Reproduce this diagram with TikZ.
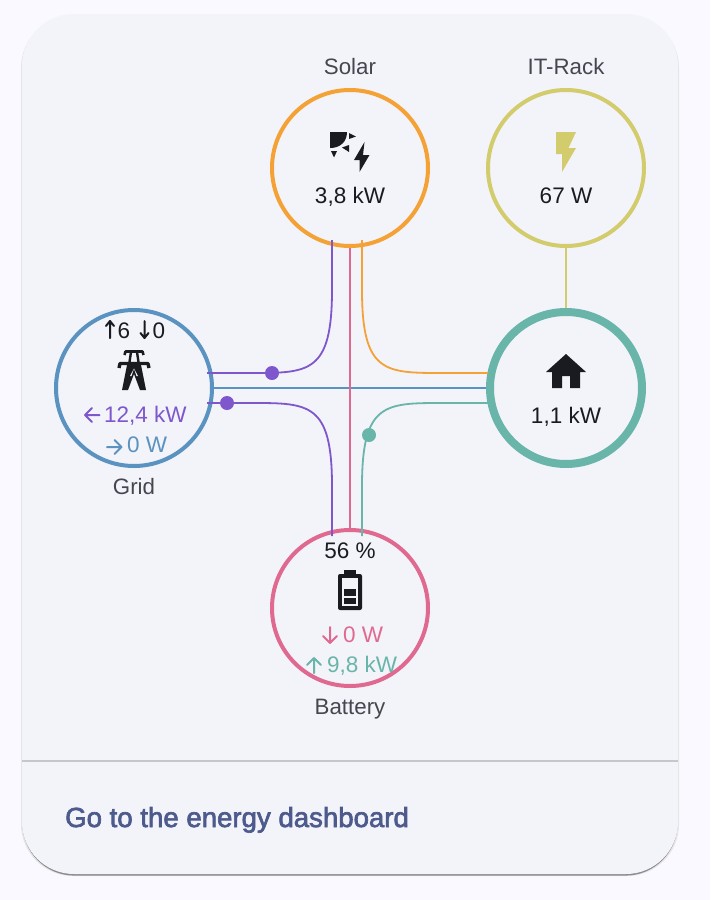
\documentclass[tikz,border=0pt]{standalone}
\usepackage{fontspec}
\setmainfont{Liberation Sans}
\newfontfamily\medfont[FakeBold=2.4]{Liberation Sans}
\definecolor{pagebg}{HTML}{F9F9FF}
\definecolor{cardbg}{HTML}{F3F3FA}
\definecolor{rulec}{HTML}{C6C6CF}
\definecolor{labelc}{HTML}{45464F}
\definecolor{inkc}{HTML}{1A1B21}
\definecolor{linkc}{HTML}{4D5A8C}
\definecolor{gridc}{HTML}{5A92C0}
\definecolor{solarc}{HTML}{F4A236}
\definecolor{rackc}{HTML}{D2CC6C}
\definecolor{homec}{HTML}{69B5A9}
\definecolor{battc}{HTML}{E0698F}
\definecolor{purpc}{HTML}{7E57CC}
\tikzset{
  x=1pt,y=-1pt,
  ring/.style={circle,draw,line width=4pt,minimum size=156pt,inner sep=0pt,fill=cardbg},
  flow/.style={line width=1.8pt},
  dotm/.style={circle,inner sep=0pt,minimum size=14pt},
  val/.style={inner sep=0pt,font=\fontsize{22.5}{23}\selectfont,text=inkc,anchor=base},
  lab/.style={inner sep=0pt,font=\fontsize{22.3}{23}\selectfont,text=labelc,anchor=base},
  arw/.style={line width=2pt,line cap=round,line join=round},
}
\begin{document}
\begin{tikzpicture}
\useasboundingbox (0,0) rectangle (710,900);
\fill[pagebg] (0,0) rectangle (710,900);
% card
\fill[black!10,rounded corners=52pt] (21,16) rectangle (679,876);
\fill[black!45,rounded corners=52pt] (22.5,20) rectangle (677.5,875.6);
\fill[cardbg,rounded corners=52pt] (22,14) rectangle (678,874);
\draw[rulec,line width=1.8pt] (22,761) -- (678,761);
\node[inner sep=0pt,anchor=base west,font=\medfont\fontsize{27.6}{28}\selectfont,text=linkc] (link) at (65,827) {Go to the energy dashboard};
% circles
\node[ring,draw=solarc] (solar) at (350,168) {};
\node[ring,draw=rackc] (rack) at (566,168) {};
\node[ring,draw=gridc] (grid) at (134,388) {};
\node[ring,draw=battc] (batt) at (350,608) {};
\node[ring,draw=homec,line width=8pt,minimum size=152pt] (home) at (566,388) {};
% connector anchors
\coordinate (s1) at (332,240); \coordinate (s2) at (362,240);
\coordinate (b1) at (332,536); \coordinate (b2) at (362,536);
\coordinate (g1) at (207,373); \coordinate (g2) at (207,403);
\coordinate (h1) at (488,373); \coordinate (h2) at (488,403);
% connectors
\draw[flow,rackc] (rack.south) -- (home.north);
\draw[flow,gridc] (grid.east) -- (home.west);
\draw[flow,battc] (solar.south) -- (batt.north);
\draw[flow,solarc] (s2) -- (362,290) .. controls (362,373) and (385,373) .. (442,373) -- (h1);
\draw[flow,homec] (b2) -- (362,486) .. controls (362,403) and (385,403) .. (442,403) -- (h2);
\draw[flow,purpc] (s1) -- (332,290) .. controls (332,373) and (309,373) .. (252,373) -- (g1);
\draw[flow,purpc] (b1) -- (332,486) .. controls (332,403) and (309,403) .. (252,403) -- (g2);
\node[dotm,fill=purpc] (d1) at (272,373) {};
\node[dotm,fill=purpc] (d2) at (227,403) {};
\node[dotm,fill=homec] (d3) at (369,435) {};
% labels
\node[lab] (lsolar) at (350,74.5) {Solar};
\node[lab] (lrack) at (566,74.5) {IT-Rack};
\node[lab] (lgrid) at (134,494.5) {Grid};
\node[lab] (lbatt) at (350,714.5) {Battery};
% values
\node[val] (vsolar) at (350,203) {3,8 kW};
\node[val] (vrack) at (566,203) {67 W};
\node[val] (vhome) at (566,423) {1,1 kW};
\node[val] (vbatt) at (350,558) {56 \%};
% solar icon
\fill[inkc] (330,132) -- (347,132) .. controls (347,142) and (340,148) .. (330,148) -- cycle;
\fill[inkc] (349,133) -- (356,136.5) -- (349,139) -- cycle;
\fill[inkc] (349,145) -- (342,147.5) -- (349,152) -- cycle;
\fill[inkc] (331,151) -- (337,151) -- (334,157.5) -- cycle;
\fill[inkc] (364.5,142) -- (354,160) -- (359.5,160) -- (359.5,172) -- (369.5,155) -- (363,155) -- cycle;
% rack bolt
\fill[rackc] (556,132) -- (576,132) -- (568.5,148) -- (576,148) -- (562,172) -- (562,154) -- (556,154) -- cycle;
% home icon
\fill[inkc] (566,354) -- (586,372) -- (580,372) -- (580,388) -- (570,388) -- (570,376) -- (562,376) -- (562,388) -- (552,388) -- (552,372) -- (546,372) -- cycle;
% grid tower
\draw[inkc,line width=2.6pt,line join=round] (124.5,355) -- (125.5,351.5) -- (142.5,351.5) -- (143.5,355);
\draw[inkc,line width=2.4pt] (131,352) -- (129.5,362) (137,352) -- (138.5,362);
\draw[inkc,line width=3.4pt,line join=round] (119,368) -- (120,363.5) -- (148,363.5) -- (149,368);
\fill[inkc] (127,365) -- (122,390) -- (128,390) -- (134,374) -- (140,390) -- (146,390) -- (141,365) -- cycle;
\fill[cardbg] (134,368.5) -- (131.5,376) -- (130,376) -- cycle;
\fill[cardbg] (134,368.5) -- (136.5,376) -- (138,376) -- cycle;
% grid text
\node[val] (vgup) at (124,338) {6};
\node[val] (vgdn) at (159,338) {0};
\draw[arw,inkc] (110,338) -- (110,321) (106,326) -- (110,321) -- (114,326);
\draw[arw,inkc] (144.5,321) -- (144.5,338) (140.5,333) -- (144.5,338) -- (148.5,333);
\node[val,text=purpc,anchor=base west] (vgin) at (104,422) {12,4 kW};
\node[val,text=gridc,anchor=base west] (vgout) at (127,452) {0 W};
\draw[arw,purpc] (99.5,415) -- (85,415) (92,408) -- (85,415) -- (92,422);
\draw[arw,gridc] (107,447) -- (121.5,447) (114.5,440) -- (121.5,447) -- (114.5,454);
% battery icon
\fill[inkc,rounded corners=2pt] (338,574) rectangle (362,610);
\fill[inkc] (344,570) rectangle (356,575);
\fill[cardbg] (342,578) rectangle (358,606);
\fill[inkc] (344,589) rectangle (356,596);
\fill[inkc] (344,598) rectangle (356,604);
% battery text
\node[val,text=battc,anchor=base west] (vbin) at (343,642) {0 W};
\node[val,text=homec,anchor=base west] (vbout) at (327,672) {9,8 kW};
\draw[arw,battc] (330,627) -- (330,643) (323,636) -- (330,643) -- (337,636);
\draw[arw,homec] (314,673) -- (314,658) (307,665) -- (314,658) -- (321,665);
\end{tikzpicture}
\end{document}
